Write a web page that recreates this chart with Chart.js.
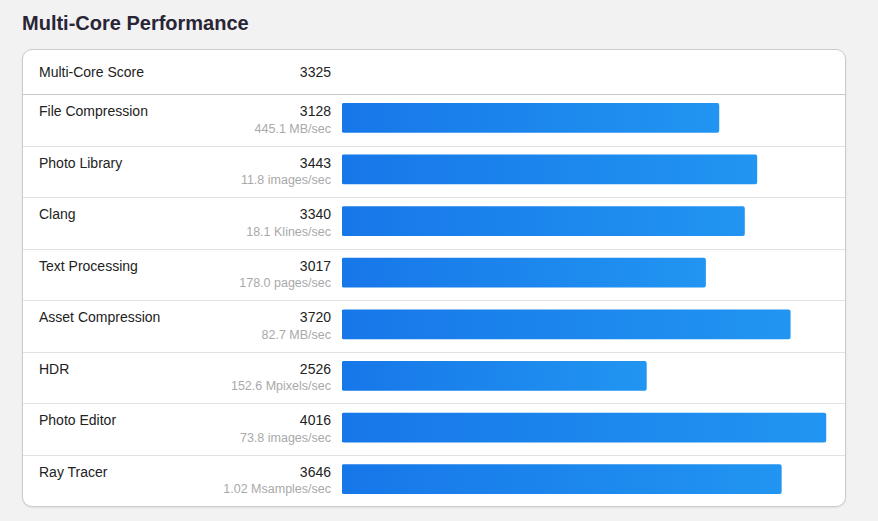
<!DOCTYPE html>
<html>
<head>
<meta charset="utf-8">
<script src="https://cdn.jsdelivr.net/npm/chart.js@4"></script>
<style>
  body { margin: 0; background: #f2f2f2; font-family: "Liberation Sans", Arial, Helvetica, sans-serif; }
  #title { position: absolute; left: 22px; top: 11px; font-size: 20px; line-height: 24px; font-weight: bold; color: #2a2536; }
  #card { position: absolute; left: 22px; top: 49px; width: 822px; height: 456px; background: #fff;
          border: 1px solid #cbcbcb; border-radius: 10px; box-shadow: 0 1px 2px rgba(0,0,0,0.08);
          display: flex; flex-direction: column; overflow: hidden; }
  .head { height: 44px; border-bottom: 1px solid #c9c9c9; position: relative; flex: none; }
  .row { flex: 1; border-bottom: 1px solid #e2e2e2; position: relative; }
  .row:last-child { border-bottom: none; }
  .name { position: absolute; left: 16px; font-size: 14px; line-height: 17px; color: #222; }
  .score { position: absolute; right: 514px; font-size: 14px; line-height: 17px; color: #222; text-align: right; }
  .sub { position: absolute; right: 514px; font-size: 12.5px; line-height: 15px; color: #a9a9a9; text-align: right; white-space: nowrap; }
  .head .name, .head .score { top: 14px; }
  .row .name, .row .score { top: 8px; }
  .row .sub { top: 26.5px; }
  #bars { position: absolute; left: 319px; top: 42px; width: 488px; height: 413px; pointer-events: none; }
</style>
</head>
<body>
<div id="title">Multi-Core Performance</div>
<div id="card">
  <div class="head"><div class="name" id="totalName"></div><div class="score" id="totalScore"></div></div>
  <div id="rows" style="display:flex;flex-direction:column;flex:1;"></div>
  <div id="bars"><canvas id="barChart"></canvas></div>
</div>
<script>
const totalLabel = "Multi-Core Score";
const totalScore = 3325;
const workloads = ["File Compression", "Photo Library", "Clang", "Text Processing",
  "Asset Compression", "HDR", "Photo Editor", "Ray Tracer"];
const scores = [3128, 3443, 3340, 3017, 3720, 2526, 4016, 3646];
const rates = ["445.1 MB/sec", "11.8 images/sec", "18.1 Klines/sec", "178.0 pages/sec",
  "82.7 MB/sec", "152.6 Mpixels/sec", "73.8 images/sec", "1.02 Msamples/sec"];

function buildRows() {
  document.getElementById("totalName").textContent = totalLabel;
  document.getElementById("totalScore").textContent = totalScore;
  const rows = document.getElementById("rows");
  workloads.forEach((name, i) => {
    const row = document.createElement("div");
    row.className = "row";
    row.innerHTML = '<div class="name"></div><div class="score"></div><div class="sub"></div>';
    row.children[0].textContent = name;
    row.children[1].textContent = scores[i];
    row.children[2].textContent = rates[i];
    rows.appendChild(row);
  });
}

function barFill(context) {
  const chart = context.chart;
  if (!chart.chartArea) return "#1e88ee";
  const xs = chart.scales.x;
  const x0 = xs.getPixelForValue(0);
  const x1 = xs.getPixelForValue(context.parsed.x);
  const g = chart.ctx.createLinearGradient(x0, 0, x1, 0);
  g.addColorStop(0, "#1777e9");
  g.addColorStop(1, "#2195f1");
  return g;
}

function renderChart() {
  const ctx = document.getElementById("barChart").getContext("2d");
  new Chart(ctx, {
    type: "bar",
    data: {
      labels: workloads,
      datasets: [
        {
          label: "Score",
          data: scores,
          backgroundColor: barFill,
          borderWidth: 0,
          borderRadius: 2,
          borderSkipped: false,
          barThickness: 29,
        },
      ],
    },
    options: {
      indexAxis: "y",
      responsive: true,
      maintainAspectRatio: false,
      animation: false,
      layout: { padding: 0 },
      scales: {
        x: { display: false, min: 0, max: 4050 },
        y: { display: false },
      },
      plugins: {
        legend: { display: false },
        tooltip: { enabled: false },
      },
    },
  });
}

buildRows();
renderChart();
</script>
</body>
</html>
